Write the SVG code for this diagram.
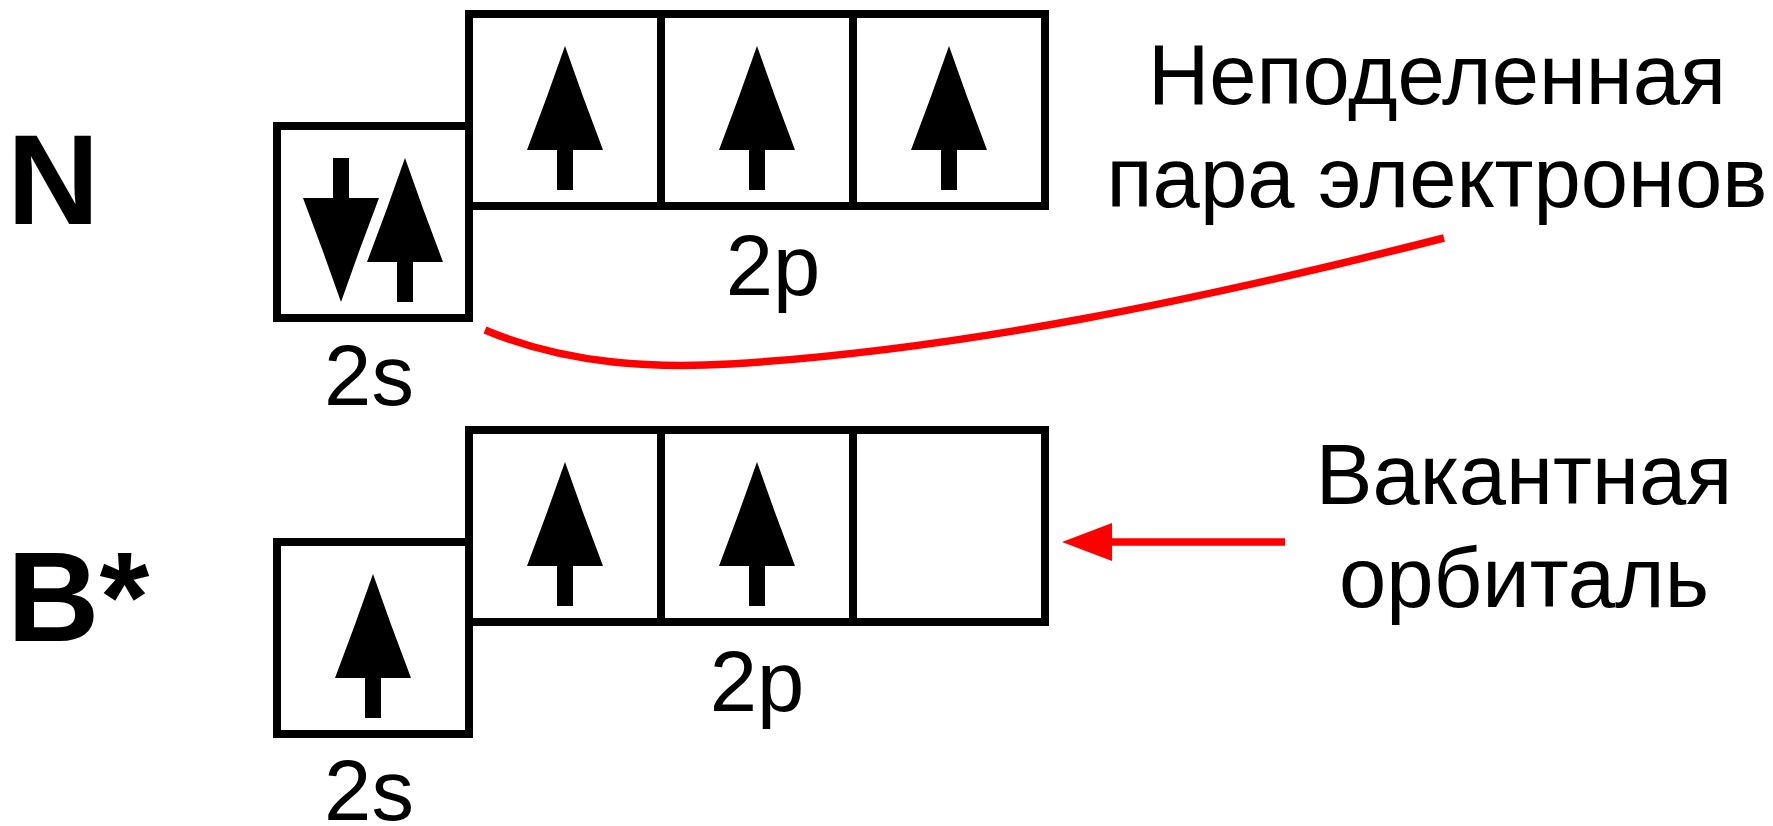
<svg xmlns="http://www.w3.org/2000/svg" width="1773" height="826" viewBox="0 0 1773 826">
  <style>
    .box { fill: #ffffff; stroke: #000000; stroke-width: 8; }
    .div { stroke: #000000; stroke-width: 8; }
    .spin { fill: #000000; }
    .lbl { font-family: "Liberation Sans", Arial, sans-serif; font-size: 85px; fill: #000000; text-anchor: middle; }
    .atom { font-family: "Liberation Sans", Arial, sans-serif; font-size: 128px; font-weight: bold; fill: #000000; }
    .red { fill: none; stroke: #ff0000; stroke-width: 7.5; }
  </style>
  <defs>
    <path id="up" d="M0,0 L-18.2,51 L-38,104 L-8,104 L-8,144 L8,144 L8,104 L38,104 L18.2,51 Z"/>
    <marker id="redhead" markerUnits="userSpaceOnUse" markerWidth="54" markerHeight="42" viewBox="-2 -21 54 42" refX="0" refY="0" orient="auto">
      <path d="M0,-19 L50,0 L0,19 Z" fill="#ff0000"/>
    </marker>
  </defs>
  <rect width="1773" height="826" fill="#ffffff"/>

  <g id="node-N">
    <text class="atom" x="7" y="224">N</text>
    <rect class="box" x="277" y="126" width="192" height="192"/>
    <rect class="box" x="469" y="14" width="576" height="192"/>
    <line class="div" x1="661" y1="14" x2="661" y2="206"/>
    <line class="div" x1="853" y1="14" x2="853" y2="206"/>
    <use href="#up" class="spin" transform="translate(341,302) scale(1,-1)"/>
    <use href="#up" class="spin" transform="translate(405,158)"/>
    <use href="#up" class="spin" transform="translate(565,46)"/>
    <use href="#up" class="spin" transform="translate(757,46)"/>
    <use href="#up" class="spin" transform="translate(949,46)"/>
    <text class="lbl" x="369" y="405" font-size="84">2s</text>
    <text class="lbl" x="773" y="295">2p</text>
  </g>

  <g id="node-B">
    <text class="atom" x="7" y="641">B*</text>
    <rect class="box" x="277" y="542" width="192" height="192"/>
    <rect class="box" x="469" y="430" width="576" height="192"/>
    <line class="div" x1="661" y1="430" x2="661" y2="622"/>
    <line class="div" x1="853" y1="430" x2="853" y2="622"/>
    <use href="#up" class="spin" transform="translate(373,574)"/>
    <use href="#up" class="spin" transform="translate(565,462)"/>
    <use href="#up" class="spin" transform="translate(757,462)"/>
    <text class="lbl" x="369" y="820" font-size="84">2s</text>
    <text class="lbl" x="757" y="711">2p</text>
  </g>

  <g id="label-lone-pair">
    <text class="lbl" x="1437" y="104">Неподеленная</text>
    <text class="lbl" x="1437" y="207">пара электронов</text>
  </g>

  <g id="label-vacant">
    <text class="lbl" x="1524" y="504">Вакантная</text>
    <text class="lbl" x="1524" y="607">орбиталь</text>
  </g>

  <g id="connectors">
    <path class="red" d="M485,330 C570,366 660,368 730,364 C960,350 1200,300 1444,238"/>
    <line class="red" stroke-width="8" x1="1285" y1="542" x2="1112" y2="542" marker-end="url(#redhead)"/>
  </g>
</svg>
